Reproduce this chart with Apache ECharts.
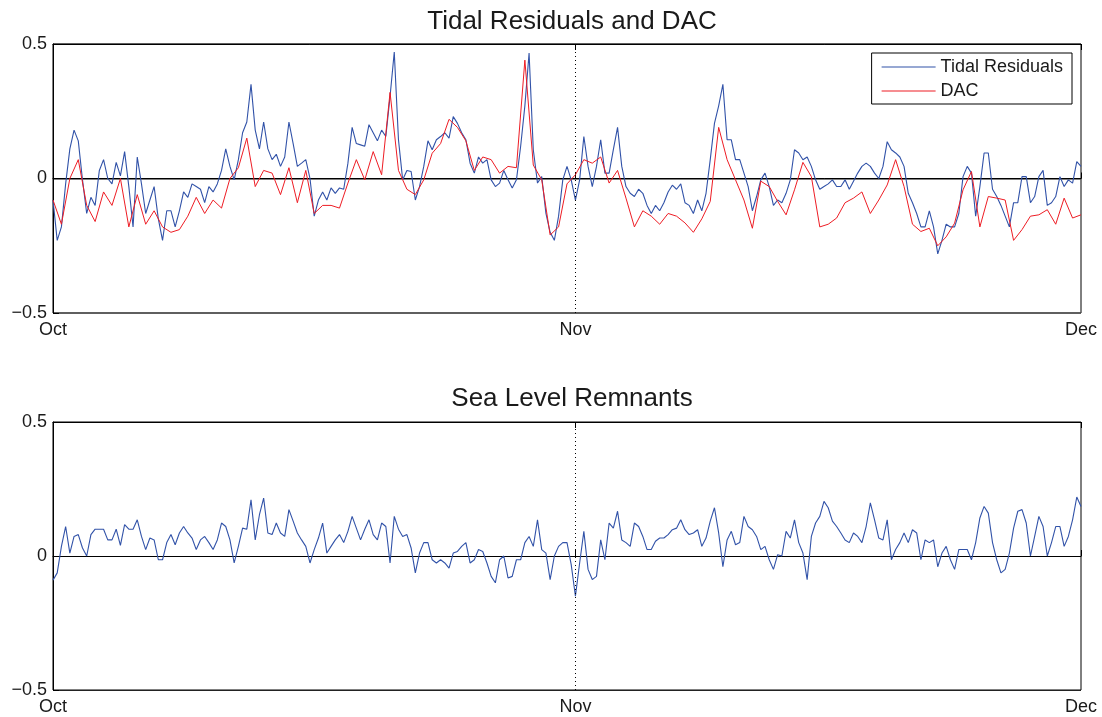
<!DOCTYPE html>
<html>
<head>
<meta charset="utf-8">
<script src="https://cdn.jsdelivr.net/npm/echarts@6/dist/echarts.min.js"></script>
<style>
html,body{margin:0;padding:0;background:#fff;}
#chart{width:1102px;height:717px;}
</style>
</head>
<body>
<div id="chart"></div>
<script>
// Time in days since 1 October; residuals/remnants every 6 h, DAC every 12 h
const monthTicks = [0, 31, 61];
const monthLabels = ['Oct', 'Nov', 'Dec'];
const residualStepDays = 0.25;
const dacStepDays = 0.5;

const tidalResiduals = [
  -0.08, -0.23, -0.18, -0.02, 0.11, 0.18, 0.14, -0.005, -0.13, -0.07,
  -0.10, 0.03, 0.07, 0.0, -0.02, 0.06, 0.01, 0.10, -0.03, -0.18,
  0.08, -0.02, -0.13, -0.08, -0.03, -0.15, -0.23, -0.12, -0.12, -0.18,
  -0.12, -0.05, -0.07, -0.02, -0.03, -0.04, -0.09, -0.03, -0.05, -0.02,
  0.03, 0.11, 0.045, -0.005, 0.07, 0.17, 0.21, 0.35, 0.18, 0.11,
  0.21, 0.11, 0.07, 0.09, 0.045, 0.08, 0.21, 0.13, 0.045, 0.057,
  0.07, 0.0, -0.14, -0.08, -0.05, -0.08, -0.035, -0.055, -0.035, -0.04,
  0.057, 0.19, 0.13, 0.125, 0.12, 0.20, 0.17, 0.14, 0.18, 0.156,
  0.305, 0.47, 0.144, -0.005, 0.03, 0.026, -0.08, -0.03, 0.045, 0.14,
  0.107, 0.144, 0.156, 0.17, 0.15, 0.23, 0.205, 0.17, 0.144, 0.057,
  0.02, 0.08, 0.057, 0.07, -0.005, -0.03, -0.017, 0.03, -0.005, -0.035,
  -0.005, 0.12, 0.27, 0.466, 0.107, -0.017, 0.007, -0.13, -0.20, -0.23,
  -0.14, -0.005, 0.045, -0.005, -0.08, -0.005, 0.156, 0.045, -0.03, 0.045,
  0.144, 0.02, 0.02, 0.107, 0.19, 0.045, -0.03, -0.055, -0.067, -0.04,
  -0.055, -0.10, -0.13, -0.10, -0.12, -0.09, -0.05, -0.025, -0.04, -0.02,
  -0.09, -0.10, -0.13, -0.08, -0.12, -0.055, 0.07, 0.205, 0.27, 0.35,
  0.144, 0.144, 0.07, 0.07, 0.02, -0.03, -0.12, -0.067, -0.005, 0.02,
  -0.03, -0.10, -0.08, -0.09, -0.055, -0.005, 0.107, 0.095, 0.07, 0.08,
  0.045, -0.005, -0.04, -0.03, -0.02, -0.005, -0.03, -0.03, -0.005, -0.04,
  -0.01, 0.02, 0.045, 0.057, 0.045, 0.02, 0.0, 0.045, 0.137, 0.107,
  0.095, 0.08, 0.045, -0.055, -0.09, -0.13, -0.18, -0.18, -0.12, -0.18,
  -0.28, -0.23, -0.17, -0.18, -0.18, -0.13, 0.007, 0.045, 0.02, -0.14,
  -0.03, 0.095, 0.095, -0.04, -0.067, -0.10, -0.14, -0.18, -0.09, -0.09,
  0.007, 0.007, -0.09, -0.067, 0.007, 0.03, -0.10, -0.09, -0.067, 0.007,
  -0.03, -0.005, -0.017, 0.063, 0.045
];

const dac = [
  -0.08, -0.17, 0.0, 0.07, -0.10, -0.16, -0.05, -0.10, 0.0, -0.18,
  -0.06, -0.17, -0.12, -0.18, -0.20, -0.19, -0.14, -0.07, -0.13, -0.08,
  -0.11, 0.0, 0.04, 0.15, -0.03, 0.03, 0.02, -0.06, 0.04, -0.09,
  0.03, -0.13, -0.10, -0.10, -0.11, -0.017, 0.07, -0.005, 0.10, 0.014,
  0.32, 0.03, -0.04, -0.06, -0.005, 0.094, 0.13, 0.22, 0.19, 0.14,
  0.03, 0.08, 0.07, 0.02, 0.045, 0.04, 0.44, 0.05, -0.005, -0.21,
  -0.18, -0.02, 0.014, 0.07, 0.057, 0.08, -0.017, 0.03, -0.073, -0.18,
  -0.12, -0.14, -0.17, -0.13, -0.14, -0.165, -0.20, -0.15, -0.085, 0.19,
  0.07, -0.005, -0.08, -0.185, -0.01, -0.03, -0.085, -0.135, -0.042, 0.06,
  0.007, -0.18, -0.17, -0.147, -0.09, -0.073, -0.05, -0.13, -0.08, -0.024,
  0.07, -0.03, -0.17, -0.197, -0.185, -0.25, -0.217, -0.166, -0.042, 0.026,
  -0.18, -0.067, -0.073, -0.08, -0.23, -0.19, -0.14, -0.135, -0.116, -0.17,
  -0.073, -0.147, -0.135
];

const seaLevelRemnants = [
  -0.09, -0.063, 0.036, 0.11, 0.011, 0.073, 0.08, 0.03, 0.0, 0.08,
  0.10, 0.10, 0.10, 0.06, 0.06, 0.10, 0.04, 0.117, 0.10, 0.10,
  0.135, 0.073, 0.024, 0.067, 0.06, -0.014, -0.014, 0.05, 0.08, 0.042,
  0.086, 0.11, 0.086, 0.067, 0.024, 0.06, 0.073, 0.05, 0.024, 0.06,
  0.123, 0.11, 0.06, -0.026, 0.036, 0.104, 0.10, 0.21, 0.06, 0.154,
  0.216, 0.086, 0.08, 0.123, 0.086, 0.073, 0.173, 0.13, 0.086, 0.06,
  0.036, -0.026, 0.024, 0.067, 0.123, 0.011, 0.036, 0.06, 0.08, 0.05,
  0.092, 0.148, 0.104, 0.06, 0.10, 0.135, 0.08, 0.06, 0.123, 0.11,
  -0.026, 0.148, 0.10, 0.073, 0.08, 0.03, -0.063, 0.011, 0.05, 0.05,
  -0.014, -0.026, -0.014, -0.026, -0.045, 0.011, 0.017, 0.036, 0.05, -0.026,
  -0.014, 0.024, 0.017, -0.026, -0.076, -0.10, -0.014, 0.0, -0.082, -0.076,
  -0.014, -0.014, 0.05, 0.073, 0.036, 0.135, 0.024, 0.011, -0.088, 0.0,
  0.036, 0.05, 0.05, -0.032, -0.15, -0.026, 0.092, -0.05, -0.088, -0.076,
  0.06, -0.014, 0.123, 0.104, 0.167, 0.06, 0.05, 0.036, 0.123, 0.11,
  0.073, 0.024, 0.024, 0.055, 0.067, 0.067, 0.08, 0.098, 0.104, 0.135,
  0.098, 0.08, 0.086, 0.098, 0.036, 0.067, 0.13, 0.18, 0.086, -0.04,
  0.06, 0.092, 0.042, 0.05, 0.148, 0.11, 0.098, 0.073, 0.024, 0.036,
  -0.014, -0.05, 0.005, 0.0, 0.092, 0.067, 0.135, 0.05, 0.011, -0.088,
  0.073, 0.123, 0.148, 0.204, 0.18, 0.13, 0.11, 0.086, 0.06, 0.05,
  0.086, 0.073, 0.05, 0.11, 0.198, 0.135, 0.067, 0.06, 0.135, -0.014,
  0.024, 0.05, 0.086, 0.05, 0.098, 0.086, -0.014, 0.06, 0.05, 0.06,
  -0.04, 0.011, 0.036, -0.014, -0.05, 0.024, 0.024, 0.024, -0.014, 0.05,
  0.142, 0.185, 0.16, 0.05, -0.014, -0.063, -0.05, 0.011, 0.104, 0.167,
  0.173, 0.123, 0.0, 0.073, 0.148, 0.11, 0.0, 0.05, 0.11, 0.11,
  0.036, 0.073, 0.135, 0.22, 0.185
];

function toPairs(values, step) {
  return values.map((v, i) => [i * step, v]);
}

const FONT = "'Liberation Sans', Arial, Helvetica, sans-serif";
const TXT = '#1a1a1a';
const BLUE = '#3152a8';
const RED = '#ee1c24';

function monthLabel(v) {
  const i = monthTicks.indexOf(Math.round(v));
  return i >= 0 ? monthLabels[i] : '';
}
function yLabel(v) {
  if (Math.abs(v) < 1e-9) return '0';
  return v < 0 ? '\u2212' + String(Math.abs(v)) : String(v);
}

function xAxes(gridIndex) {
  return [
    {
      type: 'value', gridIndex, min: 0, max: 61, position: 'bottom',
      axisLine: { show: true, lineStyle: { color: '#000', width: 1 } },
      axisTick: { show: true, inside: true, length: 6, customValues: monthTicks, lineStyle: { color: '#000' } },
      axisLabel: { show: true, customValues: monthTicks, formatter: monthLabel, margin: 8,
        fontFamily: FONT, fontSize: 18, color: TXT, showMinLabel: true, showMaxLabel: true },
      splitLine: { show: false }
    },
    {
      type: 'value', gridIndex, min: 0, max: 61, position: 'top',
      axisLine: { show: true, lineStyle: { color: '#000', width: 1 } },
      axisTick: { show: true, inside: true, length: 6, customValues: monthTicks, lineStyle: { color: '#000' } },
      axisLabel: { show: false },
      splitLine: { show: false }
    }
  ];
}

function yAxis(gridIndex, zeroColor, zeroWidth) {
  return {
    type: 'value', gridIndex, min: -0.5, max: 0.5, interval: 0.5,
    axisLine: { show: true, lineStyle: { color: '#000', width: 1 } },
    axisTick: { show: true, inside: true, length: 6, lineStyle: { color: '#000' } },
    axisLabel: { formatter: yLabel, margin: 6, fontFamily: FONT, fontSize: 18, color: TXT },
    splitLine: { show: true, lineStyle: { color: zeroColor, width: zeroWidth } }
  };
}

const novLine = {
  silent: true,
  symbol: ['none', 'none'],
  label: { show: false },
  lineStyle: { color: '#000', type: [1, 3], width: 1 },
  emphasis: { disabled: true },
  data: [{ xAxis: monthTicks[1] }]
};

const option = {
  animation: false,
  backgroundColor: '#ffffff',
  title: [
    { text: 'Tidal Residuals and DAC', left: 567, top: 4, textAlign: 'center',
      textStyle: { fontFamily: FONT, fontSize: 26, fontWeight: 'normal', color: TXT } },
    { text: 'Sea Level Remnants', left: 567, top: 381, textAlign: 'center',
      textStyle: { fontFamily: FONT, fontSize: 26, fontWeight: 'normal', color: TXT } }
  ],
  legend: {
    data: [
      { name: 'Tidal Residuals', icon: 'rect', itemStyle: { color: BLUE } },
      { name: 'DAC', icon: 'rect', itemStyle: { color: RED } }
    ],
    orient: 'vertical',
    right: 30, top: 53,
    padding: [5, 9, 4, 10],
    itemWidth: 54, itemHeight: 1.2, itemGap: 6,
    backgroundColor: '#fff',
    borderColor: '#000', borderWidth: 1, borderRadius: 0,
    textStyle: { fontFamily: FONT, fontSize: 18, color: TXT, lineHeight: 18 },
    selectedMode: false
  },
  grid: [
    { left: 53, right: 21, top: 44, height: 269, show: true, borderColor: '#000', borderWidth: 1, backgroundColor: '#fff' },
    { left: 53, right: 21, top: 422, height: 268, show: true, borderColor: '#000', borderWidth: 1, backgroundColor: '#fff' }
  ],
  xAxis: [...xAxes(0), ...xAxes(1)],
  yAxis: [yAxis(0, '#555', 1.5), yAxis(1, '#222', 1)],
  series: [
    {
      name: 'Tidal Residuals', type: 'line', xAxisIndex: 0, yAxisIndex: 0,
      data: toPairs(tidalResiduals, residualStepDays),
      symbol: 'none', lineStyle: { color: BLUE, width: 1.1 }, itemStyle: { color: BLUE },
      markLine: novLine, z: 2
    },
    {
      name: 'DAC', type: 'line', xAxisIndex: 0, yAxisIndex: 0,
      data: toPairs(dac, dacStepDays),
      symbol: 'none', lineStyle: { color: RED, width: 1 }, itemStyle: { color: RED }, z: 3
    },
    {
      name: 'Sea Level Remnants', type: 'line', xAxisIndex: 2, yAxisIndex: 1,
      data: toPairs(seaLevelRemnants, residualStepDays),
      symbol: 'none', lineStyle: { color: BLUE, width: 1.1 }, itemStyle: { color: BLUE },
      markLine: novLine, z: 2
    }
  ]
};

const chart = echarts.init(document.getElementById('chart'), null, { renderer: 'canvas' });
chart.setOption(option);
</script>
</body>
</html>
